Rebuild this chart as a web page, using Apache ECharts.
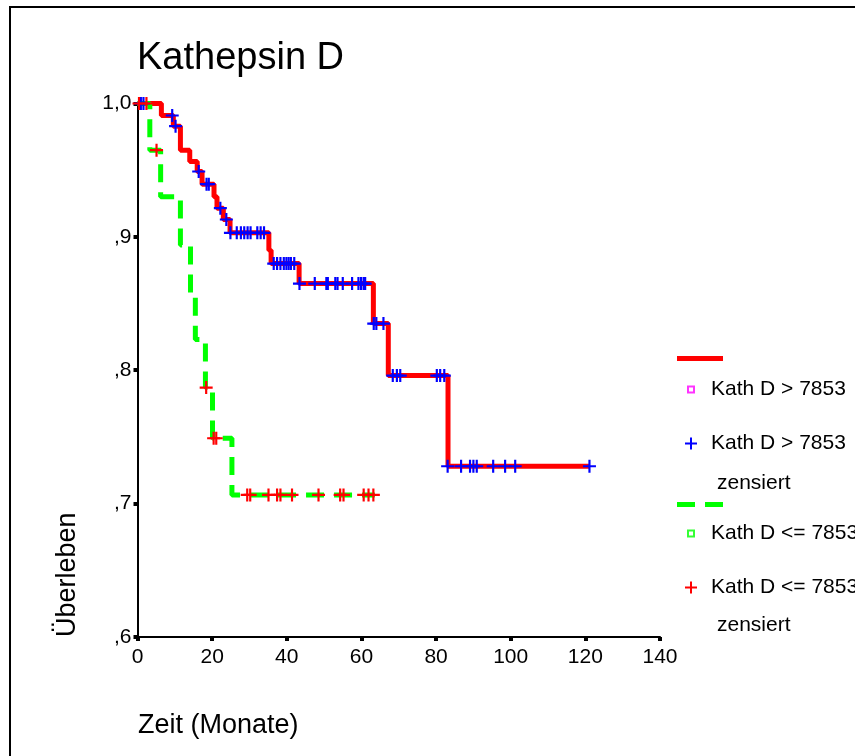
<!DOCTYPE html>
<html lang="de">
<head>
    <meta charset="UTF-8">
    <title>Kathepsin D</title>
    <script src="https://cdn.jsdelivr.net/npm/echarts@6/dist/echarts.min.js"></script>
    <style>
        html, body { margin: 0; padding: 0; background: #fff; }
        #chart { width: 855px; height: 756px; }
    </style>
</head>
<body>
<div id="chart"></div>
<script type="text/javascript">
    // Kath D > 7853 : Stufen der Überlebenskurve
    var hiT = [0, 6.4, 9.6, 11.5, 14.0, 16.0, 17.3, 20.5, 21.3, 23.0, 24.8, 35.2, 35.8, 43.3, 63.2, 67.2, 83.2, 121.1];
    var hiS = [1.0, 0.991, 0.983, 0.965, 0.9565, 0.949, 0.9395, 0.930, 0.9215, 0.913, 0.903, 0.890, 0.880, 0.865, 0.835, 0.796, 0.728, 0.728];
    // Kath D > 7853 zensiert
    var hiCensT = [0.9, 1.6, 9.3, 10.2, 16.4, 18.5, 19.1, 22.2, 23.8,
        24.9, 26.6, 27.7, 28.6, 29.5, 30.3, 32.1, 33.0, 33.9,
        36.5, 37.4, 38.3, 39.2, 39.9, 40.5, 41.1, 42.0,
        43.4, 47.5, 50.6, 51.0, 53.0, 53.6, 55.0, 57.5, 59.2, 59.9, 60.6, 61.0,
        63.3, 64.0, 65.9, 68.4, 69.5, 70.4, 80.2, 81.1, 82.2,
        83.1, 86.7, 89.1, 90.0, 90.9, 95.3, 98.5, 101.2, 121.1];
    var hiCensS = [1.0, 1.0, 0.991, 0.983, 0.949, 0.9395, 0.9395, 0.9215, 0.913,
        0.903, 0.903, 0.903, 0.903, 0.903, 0.903, 0.903, 0.903, 0.903,
        0.880, 0.880, 0.880, 0.880, 0.880, 0.880, 0.880, 0.880,
        0.865, 0.865, 0.865, 0.865, 0.865, 0.865, 0.865, 0.865, 0.865, 0.865, 0.865, 0.865,
        0.835, 0.835, 0.835, 0.796, 0.796, 0.796, 0.796, 0.796, 0.796,
        0.728, 0.728, 0.728, 0.728, 0.728, 0.728, 0.728, 0.728, 0.728];

    // Kath D <= 7853
    var loT = [0, 3.3, 6.2, 11.5, 14.2, 15.5, 18.2, 20.1, 25.3, 63.6];
    var loS = [1.0, 0.965, 0.930, 0.894, 0.858, 0.823, 0.787, 0.749, 0.7065, 0.7065];
    // Kath D <= 7853 zensiert
    var loCensT = [0.4, 2.4, 5.1, 18.4, 20.4, 21.1,
        29.4, 30.2, 35.1, 37.4, 38.3, 41.4, 48.5, 54.3, 55.2, 60.6, 61.9, 63.2];
    var loCensS = [1.0, 1.0, 0.965, 0.787, 0.749, 0.749,
        0.7065, 0.7065, 0.7065, 0.7065, 0.7065, 0.7065, 0.7065, 0.7065, 0.7065, 0.7065, 0.7065, 0.7065];

    var yTickValues = [0.6, 0.7, 0.8, 0.9, 1.0];
    var yTickLabels = [',6', ',7', ',8', ',9', '1,0'];

    var legendText = {
        hiLine: '',
        hiEvt: 'Kath D > 7853',
        hiCens: 'Kath D > 7853',
        loLine: '',
        loEvt: 'Kath D <= 7853',
        loCens: 'Kath D <= 7853'
    };

    var FONT = "'Liberation Sans', Arial, sans-serif";
    var PLUS = 'path://M5,0h2v5h5v2h-5v5h-2v-5h-5v-2h5z';
    var SQUARE = 'path://M0,0h8v8h-8z M2,2v4h4v-4z';

    function pairs(xs, ys) {
        var out = [];
        for (var i = 0; i < xs.length; i++) out.push([xs[i], ys[i]]);
        return out;
    }

    function legendItem(name, left, top, icon, w, h, color, padLeft) {
        return {
            data: [name],
            left: left,
            top: top,
            padding: 0,
            icon: icon,
            itemWidth: w,
            itemHeight: h,
            selectedMode: false,
            itemStyle: { color: color, borderWidth: 0 },
            formatter: function (n) { return legendText[n]; },
            textStyle: { fontFamily: FONT, fontSize: 21, color: '#000', padding: [0, 0, 0, padLeft] }
        };
    }

    var chart = echarts.init(document.getElementById('chart'));
    var option = {
        animation: false,
        backgroundColor: '#fff',
        title: {
            text: 'Kathepsin D',
            left: 132,
            top: 35,
            textStyle: { fontFamily: FONT, fontSize: 38, fontWeight: 'normal', color: '#000' }
        },
        grid: { left: 137.5, right: 195, top: 103.5, bottom: 119 },
        xAxis: {
            type: 'value',
            min: 0,
            max: 140,
            interval: 20,
            splitLine: { show: false },
            axisLine: { lineStyle: { color: '#000', width: 2 } },
            axisTick: { show: true, length: 4, lineStyle: { color: '#000', width: 4 } },
            axisLabel: { fontFamily: FONT, fontSize: 21, color: '#000', margin: 10 }
        },
        yAxis: {
            type: 'value',
            min: 0.6,
            max: 1.0,
            interval: 0.1,
            splitLine: { show: false },
            axisLine: { show: true, lineStyle: { color: '#000', width: 2 } },
            axisTick: { show: true, length: 4, lineStyle: { color: '#000', width: 4 } },
            axisLabel: {
                fontFamily: FONT, fontSize: 21, color: '#000', margin: 6,
                formatter: function (v) {
                    for (var i = 0; i < yTickValues.length; i++) {
                        if (Math.abs(v - yTickValues[i]) < 1e-6) return yTickLabels[i];
                    }
                    return '';
                }
            }
        },
        legend: [
            legendItem('hiLine', 677, 356, 'rect', 46, 5, '#ff0000', 0),
            legendItem('hiEvt', 687, 379, SQUARE, 8, 8, '#ff00ff', 11),
            legendItem('hiCens', 685, 433, PLUS, 12, 12, '#0000ff', 9),
            legendItem('loLine', 677, 502, 'path://M0,0h18v5h-18z M28,0h18v5h-18z', 46, 5, '#00ff00', 0),
            legendItem('loEvt', 687, 523, SQUARE, 8, 8, '#00ff00', 11),
            legendItem('loCens', 685, 577, PLUS, 12, 12, '#ff0000', 9)
        ],
        graphic: [
            {
                type: 'polyline',
                shape: { points: [[10, 756], [10, 7], [855, 7]] },
                style: { stroke: '#000', lineWidth: 2, fill: null }
            },
            {
                type: 'text', x: 717, y: 483,
                style: { text: 'zensiert', fontFamily: FONT, fontSize: 21, fill: '#000', verticalAlign: 'middle' }
            },
            {
                type: 'text', x: 717, y: 625,
                style: { text: 'zensiert', fontFamily: FONT, fontSize: 21, fill: '#000', verticalAlign: 'middle' }
            },
            {
                type: 'text', x: 138, y: 726,
                style: { text: 'Zeit (Monate)', fontFamily: FONT, fontSize: 27, fill: '#000', verticalAlign: 'middle' }
            },
            {
                type: 'text', x: 68, y: 637, rotation: Math.PI / 2,
                style: { text: 'Überleben', fontFamily: FONT, fontSize: 27, fill: '#000', verticalAlign: 'middle' }
            }
        ],
        series: [
            {
                name: 'hiLine',
                type: 'line',
                step: 'end',
                color: '#ff0000',
                showSymbol: false,
                symbol: 'none',
                lineStyle: { color: '#ff0000', width: 5 },
                data: pairs(hiT, hiS),
                z: 2
            },
            {
                name: 'loLine',
                type: 'line',
                step: 'end',
                color: '#00ff00',
                showSymbol: false,
                symbol: 'none',
                lineStyle: { color: '#00ff00', width: 5, type: [18, 10], cap: 'butt' },
                data: pairs(loT, loS),
                z: 2
            },
            { name: 'hiEvt', type: 'scatter', data: [], itemStyle: { color: '#ff00ff' } },
            { name: 'loEvt', type: 'scatter', data: [], itemStyle: { color: '#00ff00' } },
            {
                name: 'hiCens',
                type: 'scatter',
                symbol: PLUS,
                symbolSize: 13,
                itemStyle: { color: '#0000ff', opacity: 1 },
                data: pairs(hiCensT, hiCensS),
                z: 3
            },
            {
                name: 'loCens',
                type: 'scatter',
                symbol: PLUS,
                symbolSize: 13,
                itemStyle: { color: '#ff0000', opacity: 1 },
                data: pairs(loCensT, loCensS),
                z: 3
            }
        ]
    };
    chart.setOption(option);
</script>
</body>
</html>
